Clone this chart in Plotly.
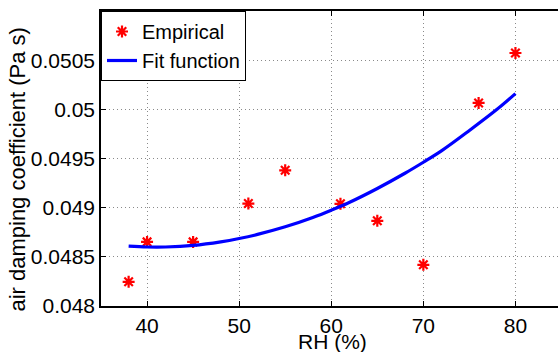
import plotly.graph_objects as go

# Empirical data
rh_emp = [38, 40, 45, 51, 55, 61, 65, 70, 76, 80]
damp_emp = [0.048246, 0.048652, 0.048652, 0.049042, 0.049380, 0.049039,
            0.048866, 0.048419, 0.050065, 0.050573]

# Fit function curve
rh_fit = [38, 40, 42, 45, 48, 50, 52, 55, 58, 60, 62, 65, 68, 70, 72, 75, 78, 80]
damp_fit = [0.048608, 0.048600, 0.048600, 0.048616, 0.048652, 0.048686,
            0.048728, 0.048805, 0.048900, 0.048974, 0.049055, 0.049195,
            0.049350, 0.049462, 0.049580, 0.049785, 0.050000, 0.050160]

x_ticks = [40, 50, 60, 70, 80]
y_ticks = [0.048, 0.0485, 0.049, 0.0495, 0.05, 0.0505]
y_tick_text = ["0.048", "0.0485", "0.049", "0.0495", "0.05", "0.0505"]

FONT = "Liberation Sans, Arial, Helvetica, sans-serif"

fig = go.Figure()
fig.add_trace(go.Scatter(
    x=rh_emp, y=damp_emp, mode="markers", name="Empirical",
    marker=dict(symbol="asterisk-open", size=10, color="#ff0000",
                line=dict(color="#ff0000", width=2.2)),
))
fig.add_trace(go.Scatter(
    x=rh_fit, y=damp_fit, mode="lines", name="Fit function",
    line=dict(color="#0000ff", width=3.2, shape="spline"),
))

axis_common = dict(
    showline=True, linecolor="black", linewidth=1.5,
    ticks="inside", ticklen=5, tickwidth=1, tickcolor="black",
    showgrid=True, gridcolor="#8a8a8a", gridwidth=1, griddash="1px,3px",
    zeroline=False, automargin=False,
    tickfont=dict(family=FONT, size=21, color="black"),
)

fig.update_layout(
    width=558, height=352,
    margin=dict(l=101, r=0, t=11, b=46, autoexpand=False),
    paper_bgcolor="white", plot_bgcolor="white",
    font=dict(family=FONT, size=21, color="black"),
    showlegend=True,
    legend=dict(x=0, y=1, xanchor="left", yanchor="top",
                bgcolor="white", bordercolor="black", borderwidth=1,
                font=dict(family=FONT, size=20, color="black"),
                tracegroupgap=0, itemwidth=30),
    xaxis=dict(range=[35, 84.62], tickvals=x_ticks, mirror="ticks", **axis_common),
    yaxis=dict(range=[0.048, 0.051], tickvals=y_ticks, ticktext=y_tick_text,
               mirror=False, **axis_common),
    annotations=[
        dict(text="RH (%)", xref="paper", yref="paper", x=0.5, y=0,
             xanchor="center", yanchor="middle", yshift=-35, xshift=3,
             showarrow=False, font=dict(family=FONT, size=21, color="black")),
        dict(text="air damping coefficient (Pa s)", xref="paper", yref="paper",
             x=0, y=0.4624, xanchor="center", yanchor="middle", xshift=-83,
             textangle=-90, showarrow=False,
             font=dict(family=FONT, size=22, color="black")),
    ],
)

fig.write_html("out.html",
               config={"displayModeBar": False},
               post_script="document.body.style.margin='0px';"
                           "document.body.style.overflow='hidden';")
